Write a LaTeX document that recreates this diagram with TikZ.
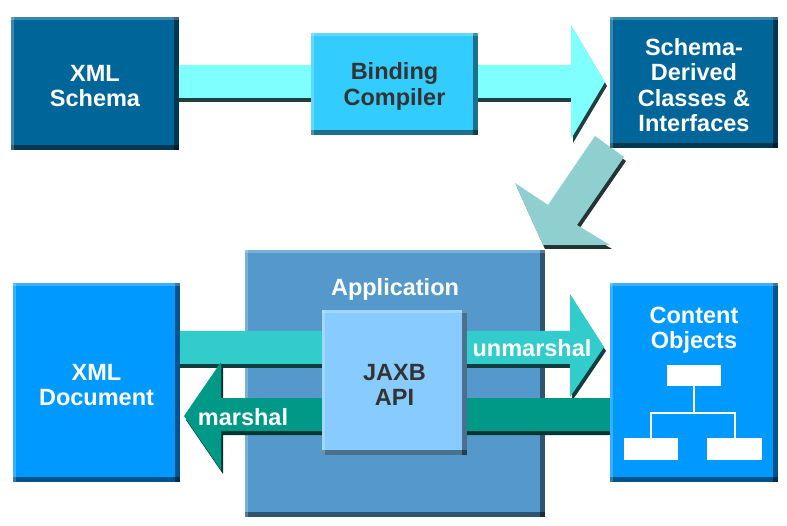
\documentclass[tikz,border=0pt]{standalone}
\usepackage{fontspec}
\setmainfont{Liberation Sans}
\definecolor{darkbox}{RGB}{0,102,153}
\definecolor{bindbox}{RGB}{51,204,255}
\definecolor{appbox}{RGB}{85,153,204}
\definecolor{jaxbbox}{RGB}{136,204,255}
\definecolor{docbox}{RGB}{0,153,255}
\definecolor{toparrow}{RGB}{128,255,255}
\definecolor{diagarrow}{RGB}{143,207,207}
\definecolor{unmarrow}{RGB}{51,204,204}
\definecolor{marrow}{RGB}{0,153,136}
\definecolor{textgray}{RGB}{51,51,51}
\tikzset{
  bevel/.style={path picture={
    \fill[black,opacity=0.45] (path picture bounding box.south west) rectangle ([yshift=5pt]path picture bounding box.south east);
    \fill[black,opacity=0.45] ([xshift=-5pt]path picture bounding box.north east) rectangle (path picture bounding box.south east);
    \fill[white,opacity=0.22] (path picture bounding box.north west) rectangle ([yshift=-3pt]path picture bounding box.north east);
    \fill[white,opacity=0.22] (path picture bounding box.north west) rectangle ([xshift=3pt]path picture bounding box.south west);
  }},
  bigfont/.style={font=\fontsize{23.5}{25.5}\selectfont\bfseries},
  boxnode/.style={rectangle, inner sep=0pt, fill=#1, bevel},
  titletext/.style={inner sep=0pt, align=center, bigfont, text=white},
  arrowtext/.style={inner sep=0pt, bigfont, text=white},
  blockarrow/.style 2 args={fill=#1, preaction={fill=#2, transform canvas={xshift=2pt,yshift=-4pt}}},
  treebox/.style={rectangle, fill=white, inner sep=0pt},
  treeline/.style={draw=white, line width=2pt},
}
\begin{document}
\begin{tikzpicture}[x=1pt,y=-1pt]
\useasboundingbox[fill=white] (0,0) rectangle (787,526);

% top arrow: XML Schema -> Binding Compiler -> Schema-Derived
\fill[blockarrow={toparrow}{black!75!toparrow}]
  (170,65) -- (571,65) -- (571,25) -- (605,82) -- (571,139) -- (571,98) -- (170,98) -- cycle;

% diagonal arrow: Schema-Derived -> Application
\fill[blockarrow={diagarrow}{black!75!diagarrow}]
  (595,136) -- (548,205) -- (515,183) -- (543,245) -- (610,245) -- (577,225) -- (624,157) -- cycle;

% top boxes
\node[boxnode=darkbox, minimum width=168pt, minimum height=133pt,
  label={[titletext, yshift=-2.5pt]center:XML\\Schema}] (xmlschema) at (95,83.5) {};
\node[boxnode=bindbox, minimum width=167pt, minimum height=102pt,
  label={[titletext, text=textgray, yshift=-2.5pt]center:Binding\\Compiler}] (binding) at (394.5,84) {};
\node[boxnode=darkbox, minimum width=168pt, minimum height=131pt,
  label={[titletext, yshift=-2.5pt]center:Schema-\\Derived\\Classes \&\\Interfaces}] (derived) at (694,82.5) {};

% application
\node[boxnode=appbox, minimum width=300pt, minimum height=267pt] (app) at (395,383.5) {};
\node[titletext] (apptitle) at ([yshift=-39.5pt]app.north) {Application};

% unmarshal arrow: XML Document -> Content Objects
\fill[blockarrow={unmarrow}{black!70!unmarrow}]
  (175,331) -- (570,331) -- (570,294) -- (604,347) -- (570,397) -- (570,364) -- (175,364) -- cycle;
% marshal arrow: Content Objects -> XML Document
\fill[blockarrow={marrow}{black!65!marrow}]
  (615,398) -- (221,398) -- (221,362) -- (184,416) -- (221,470) -- (221,431) -- (615,431) -- cycle;

% JAXB API
\node[boxnode=jaxbbox, minimum width=145pt, minimum height=145pt,
  label={[titletext, text=textgray, yshift=-2.5pt]center:JAXB\\API}] (jaxb) at (394.5,382.5) {};

% side boxes
\node[boxnode=docbox, minimum width=167pt, minimum height=199pt,
  label={[titletext, yshift=-2.5pt]center:XML\\Document}] (xmldoc) at (96.5,382.5) {};
\node[boxnode=docbox, minimum width=168pt, minimum height=199pt] (content) at (694,382.5) {};
\node[titletext] (contenttitle) at ([yshift=-47.5pt]content.north) {Content\\Objects};

% tree icon
\node[treebox, minimum width=54pt, minimum height=21pt] (t0) at (694,375.5) {};
\node[treebox, minimum width=54pt, minimum height=22pt] (t1) at (651,449) {};
\node[treebox, minimum width=55pt, minimum height=22pt] (t2) at (734.5,449) {};
\coordinate (tj) at (694,413);
\draw[treeline] (t0.south) -- (tj);
\draw[treeline] (t1.north) |- (tj) -| (t2.north);

% arrow labels
\node[arrowtext] (unm) at (532,348) {unmarshal};
\node[arrowtext] (mar) at (243,417) {marshal};
\end{tikzpicture}
\end{document}
